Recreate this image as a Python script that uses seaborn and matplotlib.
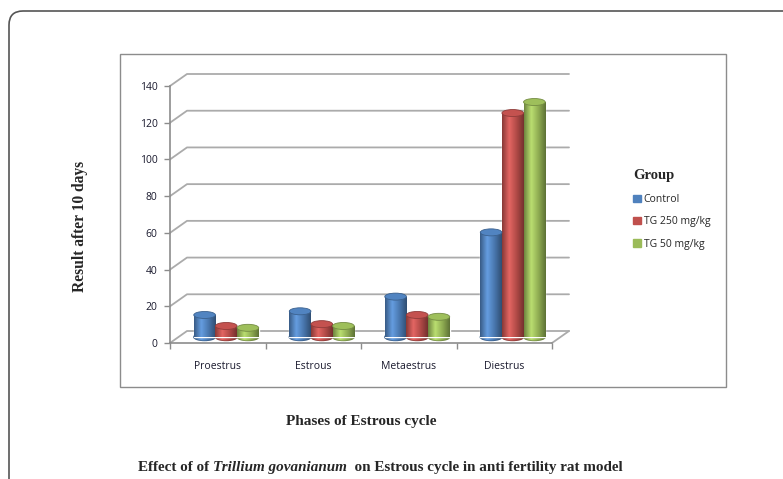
import numpy as np
import pandas as pd
import matplotlib
matplotlib.use('Agg')
import matplotlib.pyplot as plt
import matplotlib.transforms as mtransforms
import seaborn as sns
from matplotlib.patches import Ellipse, Rectangle, FancyBboxPatch, Patch
from matplotlib.colors import LinearSegmentedColormap, to_rgb

# data
phases = ['Proestrus', 'Estrous', 'Metaestrus', 'Diestrus']
groups = ['Control', 'TG 250 mg/kg', 'TG 50 mg/kg']
control = [12, 14, 22, 57]
tg250 = [6, 7, 12, 122]
tg50 = [5, 6, 11, 128]
y_ticks = [0, 20, 40, 60, 80, 100, 120, 140]
colors = ['#4f81bd', '#c0504d', '#9bbb59']

df = pd.DataFrame({
    'phase': phases * 3,
    'group': np.repeat(groups, len(phases)),
    'value': control + tg250 + tg50,
})

W, H = 783, 479
sns.set_style('white')
plt.rcParams['font.family'] = ['Open Sans', 'DejaVu Sans']
serif = 'Liberation Serif'

fig = plt.figure(figsize=(W / 100, H / 100), dpi=100)
ax_box = [170 / W, 1 - 343 / H, (552 - 170) / W, (343 - 86) / H]
ax = fig.add_axes(ax_box)

sns.barplot(data=df, x='phase', y='value', hue='group', palette=colors,
            width=0.68, saturation=1, legend=False, ax=ax, zorder=3)
ax.set_xlim(-0.5, 3.5)
ax.set_ylim(0, 140)

# 3d depth in data units
ax_w = ax_box[2] * W
ax_h = ax_box[3] * H
dx = 17 * 4 / ax_w
dy = 12 * 140 / ax_h
eh = 7 * 140 / ax_h

# cylinder look for the bars
grad = np.linspace(0, 1, 256).reshape(1, -1)
for cont, col in zip(ax.containers, colors):
    base = np.array(to_rgb(col))
    light = np.minimum(base * 1.12 + 0.05, 1)
    cmap = LinearSegmentedColormap.from_list(
        'cyl', [base * 0.7, light, base * 0.92, base * 0.6])
    for bar in cont:
        bar.set_x(bar.get_x() + dx / 2)
        bar.set_y(dy / 2)
        x0, w, h = bar.get_x(), bar.get_width(), bar.get_height()
        y0 = dy / 2
        bottom = Ellipse((x0 + w / 2, y0), w, eh, color=base * 0.72,
                         zorder=2.9, clip_on=False)
        ax.add_patch(bottom)
        im = ax.imshow(grad, cmap=cmap, extent=(x0, x0 + w, y0 - eh / 2, y0),
                       aspect='auto', zorder=2.95, interpolation='bilinear')
        im.set_clip_path(bottom)
        im = ax.imshow(grad, cmap=cmap, extent=(x0, x0 + w, y0, y0 + h),
                       aspect='auto', zorder=3.1, interpolation='bilinear')
        im.set_clip_path(bar)
        ax.add_patch(Ellipse((x0 + w / 2, y0 + h), w, eh, fc=base * 1.02,
                             ec=base * 0.75, lw=0.6, zorder=3.2, clip_on=False))

ax.set_xlim(-0.5, 3.5)
ax.set_ylim(0, 140)

# back wall gridlines and floor
gc = '#ababab'
for v in y_ticks:
    ax.plot([-0.5, -0.5 + dx, 3.5 + dx], [v, v + dy, v + dy], color=gc,
            lw=1.3, zorder=1, clip_on=False)
ax.plot([3.5, 3.5 + dx], [0, dy], color=gc, lw=1.3, zorder=1, clip_on=False)

for s in ['top', 'right']:
    ax.spines[s].set_visible(False)
for s in ['left', 'bottom']:
    ax.spines[s].set_color('#8c8c8c')
    ax.spines[s].set_linewidth(1.2)

ax.set_yticks(y_ticks)
ax.set_xticks(range(len(phases)))
ax.set_xticklabels(phases)
ax.set_xticks(np.arange(-0.5, 4, 1), minor=True)
ax.tick_params(axis='y', length=4, width=1, color='#8c8c8c', labelsize=7.5,
               pad=5, labelcolor='#1a1a2e', left=True)
ax.tick_params(axis='x', which='major', length=0, labelsize=7.5, pad=13,
               labelcolor='#1a1a2e')
ax.tick_params(axis='x', which='minor', length=4, width=1, color='#8c8c8c',
               bottom=True)
ax.set_xlabel('')
ax.set_ylabel('')

# titles
fig.text(80 / W, 1 - 226 / H, 'Result after 10 days', rotation=90,
         ha='center', va='center', family=serif, weight='bold', size=11.2)
fig.text(361 / W, 1 - 422 / H, 'Phases of Estrous cycle', ha='center',
         va='center', family=serif, weight='bold', size=11)
t1 = fig.text(138 / W, 1 - 474 / H, 'Effect of of ', ha='left', va='bottom',
              family=serif, weight='bold', size=10.9)
t2 = ax.annotate('Trillium govanianum', xy=(1, 0), xycoords=t1, va='bottom',
                 family=serif, weight='bold', style='italic', size=10.9,
                 annotation_clip=False)
ax.annotate('  on Estrous cycle in anti fertility rat model', xy=(1, 0),
            xycoords=t2, va='bottom', family=serif, weight='bold', size=10.9,
            annotation_clip=False)

# legend
handles = [Patch(color=c, label=g) for c, g in zip(colors, groups)]
fig.legend(handles=handles, title='Group', loc='upper left',
           bbox_to_anchor=(624 / W, 1 - 160 / H), frameon=False,
           fontsize=7.5, handlelength=0.7, handleheight=0.7,
           handletextpad=0.3, labelspacing=1.1, alignment='left',
           title_fontproperties={'family': serif, 'weight': 'bold', 'size': 10.5})

# frames
fig.add_artist(Rectangle((120 / W, 1 - 387 / H), (726 - 120) / W, (387 - 54) / H,
                         transform=fig.transFigure, fill=False, ec='#8c8c8c', lw=1))
fig.add_artist(FancyBboxPatch((9, -60), 900, 479 - 11 + 60,
                              boxstyle='round,pad=0,rounding_size=14',
                              transform=mtransforms.IdentityTransform(),
                              fill=False, ec='#555555', lw=1.2))

fig.savefig('out.png', dpi=100)
